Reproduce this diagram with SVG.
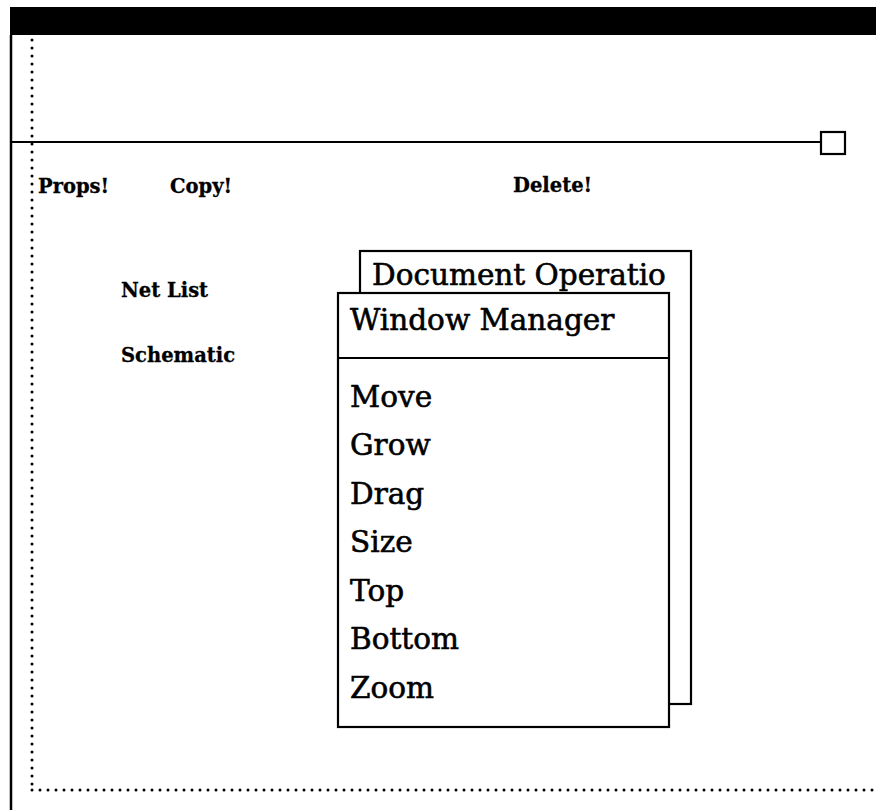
<svg xmlns="http://www.w3.org/2000/svg" width="876" height="810" viewBox="0 0 876 810">
<style>
.lbl{font-family:"DejaVu Serif","Liberation Serif",serif;font-weight:bold;font-size:19.5px;fill:#000;stroke:#000;stroke-width:0.3}
.big{font-family:"DejaVu Serif","Liberation Serif",serif;font-size:29.5px;fill:#000;stroke:#000;stroke-width:0.6}
.frame{fill:#fff;stroke:#000;stroke-width:2.2}
.dot{fill:none;stroke:#000;stroke-width:3;stroke-linecap:round;stroke-dasharray:0 8}
</style>
<rect width="876" height="810" fill="#fff"/>
<g id="window-frame">
<rect x="10" y="7" width="866" height="28" fill="#000"/>
<line x1="11" y1="35" x2="11" y2="810" stroke="#000" stroke-width="2.5"/>
<line x1="11" y1="142" x2="821" y2="142" stroke="#000" stroke-width="2"/>
<rect x="821" y="132" width="24" height="22" fill="#fff" stroke="#000" stroke-width="2.2"/>
</g>
<g id="connectors">
<line class="dot" x1="32" y1="40" x2="32" y2="790"/>
<line class="dot" x1="32" y1="790" x2="876" y2="790"/>
</g>
<g id="props"><text class="lbl" x="38" y="193">Props!</text></g>
<g id="copy"><text class="lbl" x="170" y="193">Copy!</text></g>
<g id="delete"><text class="lbl" x="513" y="192">Delete!</text></g>
<g id="netlist"><text class="lbl" x="121" y="297">Net List</text></g>
<g id="schematic"><text class="lbl" x="121" y="362">Schematic</text></g>
<g id="document-operations">
<rect class="frame" x="360" y="251" width="331" height="453"/>
<text class="big" x="372" y="285">Document Operatio</text>
</g>
<g id="window-manager">
<rect class="frame" x="338" y="293" width="331" height="434"/>
<text class="big" x="350" y="330">Window Manager</text>
<line x1="338" y1="358" x2="669" y2="358" stroke="#000" stroke-width="2.2"/>
<text class="big" x="350" y="407">Move</text>
<text class="big" x="350" y="455">Grow</text>
<text class="big" x="350" y="504">Drag</text>
<text class="big" x="350" y="552">Size</text>
<text class="big" x="350" y="601">Top</text>
<text class="big" x="350" y="649">Bottom</text>
<text class="big" x="350" y="698">Zoom</text>
</g>
</svg>
